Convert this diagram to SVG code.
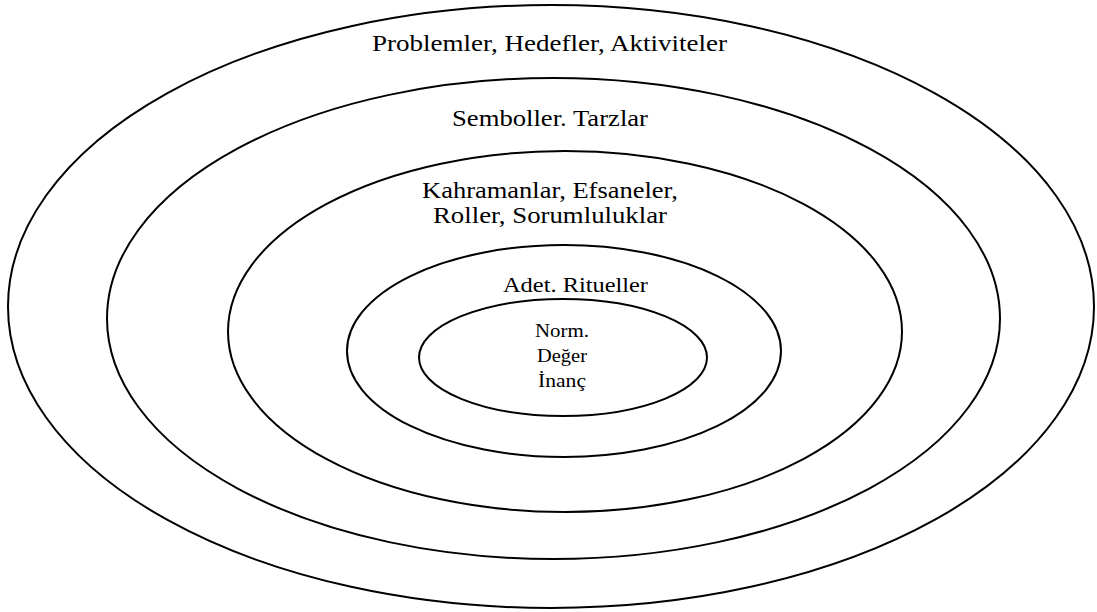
<svg xmlns="http://www.w3.org/2000/svg" width="1097" height="612" viewBox="0 0 1097 612">
<style>
.ring{fill:none;stroke:#000;stroke-width:2}
.t{font-family:"Liberation Serif","Times New Roman",serif;fill:#000}
</style>
<rect width="1097" height="612" fill="#fff"/>
<g id="ring-outer">
<ellipse class="ring" cx="551" cy="306.5" rx="543" ry="301.5"/>
<text class="t" x="372" y="51" font-size="23" textLength="355" lengthAdjust="spacingAndGlyphs">Problemler, Hedefler, Aktiviteler</text>
</g>
<g id="ring-2">
<ellipse class="ring" cx="553.5" cy="318.5" rx="446.5" ry="240.5"/>
<text class="t" x="452" y="126" font-size="23" textLength="196" lengthAdjust="spacingAndGlyphs">Semboller. Tarzlar</text>
</g>
<g id="ring-3">
<ellipse class="ring" cx="565" cy="331.5" rx="337" ry="180.5"/>
<text class="t" x="422" y="198" font-size="23" textLength="256" lengthAdjust="spacingAndGlyphs">Kahramanlar, Efsaneler,</text>
<text class="t" x="433" y="223" font-size="23" textLength="234" lengthAdjust="spacingAndGlyphs">Roller, Sorumluluklar</text>
</g>
<g id="ring-4">
<ellipse class="ring" cx="564" cy="351" rx="217" ry="106"/>
<text class="t" x="503" y="292" font-size="20" textLength="145" lengthAdjust="spacingAndGlyphs">Adet. Ritueller</text>
</g>
<g id="ring-inner">
<ellipse class="ring" cx="563" cy="357.5" rx="144" ry="58.5"/>
<text class="t" x="535" y="337" font-size="18" textLength="54" lengthAdjust="spacingAndGlyphs">Norm.</text>
<text class="t" x="537" y="362" font-size="18" textLength="50" lengthAdjust="spacingAndGlyphs">Değer</text>
<text class="t" x="538" y="387" font-size="18" textLength="48" lengthAdjust="spacingAndGlyphs">İnanç</text>
</g>
</svg>
